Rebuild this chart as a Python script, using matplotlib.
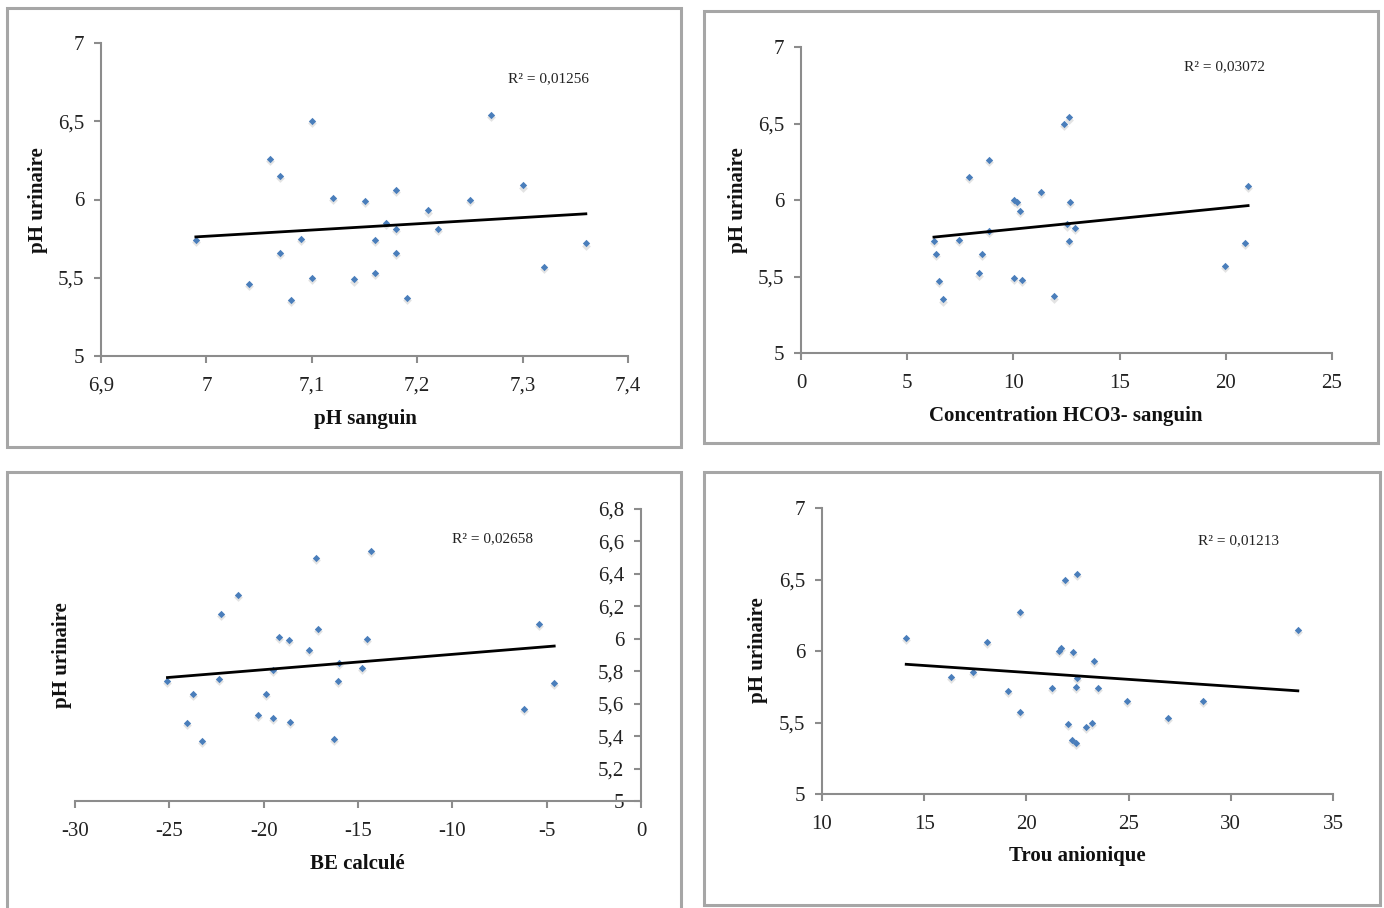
import numpy as np
import matplotlib
matplotlib.use('Agg')
import matplotlib.pyplot as plt
from matplotlib.patches import Rectangle
from matplotlib.ticker import FuncFormatter, MultipleLocator

plt.rcParams['font.family'] = ['Liberation Serif', 'DejaVu Serif']

# pH urinaire (same patients in every panel)
ph_sang = [6.99, 7.04, 7.06, 7.07, 7.07, 7.08, 7.09, 7.10, 7.10, 7.12, 7.14, 7.15, 7.16,
           7.16, 7.17, 7.18, 7.18, 7.18, 7.19, 7.21, 7.22, 7.25, 7.27, 7.30, 7.32, 7.36]
ph_uri1 = [5.74, 5.46, 6.26, 6.15, 5.66, 5.36, 5.75, 6.50, 5.50, 6.01, 5.49, 5.99, 5.74,
           5.53, 5.85, 6.06, 5.81, 5.66, 5.37, 5.93, 5.81, 6.00, 6.54, 6.09, 5.57, 5.72]

hco3 = [6.26, 6.37, 6.49, 6.68, 7.42, 7.89, 8.38, 8.50, 8.85, 8.85, 10.03, 10.19, 10.05,
        10.30, 10.39, 11.28, 11.89, 12.38, 12.63, 12.50, 12.68, 12.61, 12.92, 19.95, 20.91, 21.05]
ph_uri2 = [5.73, 5.65, 5.47, 5.35, 5.74, 6.15, 5.52, 5.65, 6.26, 5.80, 6.00, 5.99, 5.49,
           5.93, 5.48, 6.05, 5.37, 6.50, 6.54, 5.84, 5.99, 5.73, 5.82, 5.57, 5.72, 6.09]

be_calc = [-25.10, -24.08, -23.76, -23.29, -22.39, -22.25, -21.37, -20.28, -19.90, -19.52,
           -19.48, -19.20, -18.67, -18.59, -17.59, -17.25, -17.11, -16.27, -16.08, -16.02,
           -14.78, -14.52, -14.32, -6.22, -5.42, -4.60]
ph_uri3 = [5.74, 5.48, 5.66, 5.37, 5.75, 6.15, 6.27, 5.53, 5.66, 5.51, 5.81, 6.01, 5.99,
           5.49, 5.93, 6.50, 6.06, 5.38, 5.74, 5.85, 5.82, 6.00, 6.54, 5.57, 6.09, 5.73]

trou_an = [14.12, 16.31, 17.39, 18.08, 19.08, 19.70, 19.70, 21.23, 21.60, 21.71, 21.90,
           22.04, 22.24, 22.41, 22.29, 22.41, 22.47, 22.47, 22.91, 23.23, 23.30, 23.49,
           24.94, 26.95, 28.64, 33.28]
ph_uri4 = [6.09, 5.82, 5.85, 6.06, 5.72, 6.27, 5.57, 5.74, 6.00, 6.02, 6.50, 5.49, 5.38,
           5.36, 5.99, 5.75, 5.81, 6.54, 5.47, 5.50, 5.93, 5.74, 5.65, 5.53, 5.65, 6.15]

r2_labels = ['R² = 0,01256', 'R² = 0,03072', 'R² = 0,02658', 'R² = 0,01213']
x_titles = ['pH sanguin', 'Concentration HCO3- sanguin', 'BE calculé', 'Trou anionique']

W, H = 1384, 908
fig = plt.figure(figsize=(W / 100, H / 100), dpi=100)

gray = '#8c8c8c'
blue = '#4a7ebb'


def px_axes(x0, x1, ytop, ybot):
    return fig.add_axes([x0 / W, (H - ybot) / H, (x1 - x0) / W, (ybot - ytop) / H])


def fmt(v, pos):
    return ('%g' % round(v, 2)).replace('.', ',')


def draw_panel(ax, x, y, xlim, xstep, ylim, ystep):
    x = np.array(x)
    y = np.array(y)
    # petite ombre sous les points, comme dans Excel
    ax.scatter(x, y - (ylim[1] - ylim[0]) * 0.007, marker='D', s=20, color='#c8c8c8',
               alpha=0.5, linewidths=0, zorder=2)
    ax.scatter(x, y, marker='D', s=14, color=blue, linewidths=0, zorder=3)
    a, b = np.polyfit(x, y, 1)
    xs = np.array([x.min(), x.max()])
    ax.plot(xs, a * xs + b, color='black', lw=2, zorder=4)
    ax.set_xlim(xlim)
    ax.set_ylim(ylim)
    ax.xaxis.set_major_locator(MultipleLocator(xstep))
    ax.yaxis.set_major_locator(MultipleLocator(ystep))
    ax.xaxis.set_major_formatter(FuncFormatter(fmt))
    ax.yaxis.set_major_formatter(FuncFormatter(fmt))
    for s in ['top', 'right']:
        ax.spines[s].set_visible(False)
    for s in ['left', 'bottom']:
        ax.spines[s].set_color(gray)
        ax.spines[s].set_linewidth(1.5)
    ax.tick_params(direction='out', length=5, width=1.5, color=gray,
                   labelsize=15, labelcolor='#222222')
    ax.tick_params(axis='x', pad=10)
    ax.tick_params(axis='y', pad=7)
    ax.set_facecolor('none')


# cadres gris autour de chaque graphique
boxes = [(7, 8, 681, 447), (704, 11, 1378, 443), (7, 472, 681, 920), (704, 472, 1380, 905)]
for x0, y0, x1, y1 in boxes:
    fig.add_artist(Rectangle((x0 / W, (H - y1) / H), (x1 - x0) / W, (y1 - y0) / H,
                             transform=fig.transFigure, fill=False,
                             edgecolor='#a6a6a6', lw=2.2, clip_on=False))

ax1 = px_axes(101, 628, 43, 356)
draw_panel(ax1, ph_sang, ph_uri1, (6.9, 7.4), 0.1, (5, 7), 0.5)

ax2 = px_axes(801, 1332, 47, 353)
draw_panel(ax2, hco3, ph_uri2, (0, 25), 5, (5, 7), 0.5)

ax3 = px_axes(75, 641, 509, 801)
draw_panel(ax3, be_calc, ph_uri3, (-30, 0), 5, (5, 6.8), 0.2)
ax3.spines['left'].set_position(('data', 0))

ax4 = px_axes(822, 1333, 508, 794)
draw_panel(ax4, trou_an, ph_uri4, (10, 35), 5, (5, 7), 0.5)

# titres des axes
lab = dict(fontsize=15, fontweight='bold', color='#111111', ha='center', va='center')
xt_pos = [(365, 419), (1066, 416), (357, 864), (1077, 856)]
yt_pos = [(38, 200), (738, 200), (62, 655), (758, 650)]
for t, (xp, yp) in zip(x_titles, xt_pos):
    fig.text(xp / W, 1 - yp / H, t, **lab)
for (xp, yp) in yt_pos:
    fig.text(xp / W, 1 - yp / H, 'pH urinaire', rotation=90, **lab)

r2_pos = [(548, 79), (1225, 67), (493, 539), (1238, 541)]
for t, (xp, yp) in zip(r2_labels, r2_pos):
    fig.text(xp / W, 1 - yp / H, t, fontsize=11, color='#222222', ha='center', va='center')

fig.savefig('out.png', dpi=100, facecolor='white')
